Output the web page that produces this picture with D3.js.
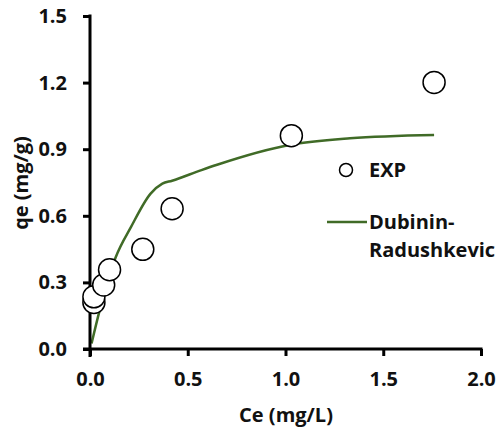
<!DOCTYPE html>
<html><head><meta charset="utf-8">
<script src="https://cdn.jsdelivr.net/npm/d3@7"></script>
<style>body{margin:0;background:#fff}svg{display:block}text{font-family:"Open Sans","Noto Sans",sans-serif;font-weight:700;fill:#111}</style>
</head><body>
<script>
const expX = [0.02, 0.02, 0.07, 0.10, 0.27, 0.42, 1.03, 1.76];
const expY = [0.21, 0.235, 0.288, 0.357, 0.449, 0.632, 0.961, 1.201];
const drX = [0.008, 0.05, 0.13, 0.21, 0.31, 0.37, 0.42, 0.57, 0.65, 1.02, 1.33, 1.76];
const drY = [0.025, 0.176, 0.41, 0.55, 0.70, 0.745, 0.758, 0.806, 0.83, 0.919, 0.949, 0.964];
const xTicks = [0, 0.5, 1.0, 1.5, 2.0];
const yTicks = [0, 0.3, 0.6, 0.9, 1.2, 1.5];
const seriesNames = ["EXP", "Dubinin-Radushkevic"];

const W = 499, H = 434;
const FS = 20;
const svg = d3.select("body").append("svg").attr("width", W).attr("height", H);
const x = d3.scaleLinear().domain([0, 2]).range([90, 481]);
const y = d3.scaleLinear().domain([0, 1.5]).range([349, 16]);
const green = "#406b27";

// model line
const line = d3.line().x(d => x(d[0])).y(d => y(d[1])).curve(d3.curveMonotoneX);
svg.append("path").datum(drX.map((v, i) => [v, drY[i]]))
  .attr("d", line).attr("fill", "none").attr("stroke", green).attr("stroke-width", 2.5);

// axes
const fmt = d3.format(".1f");
const gx = svg.append("g").attr("transform", `translate(0,${y(0)})`)
  .call(d3.axisBottom(x).tickValues(xTicks).tickFormat(fmt).tickSize(7).tickPadding(16).tickSizeOuter(0));
const gy = svg.append("g").attr("transform", `translate(${x(0)},0)`)
  .call(d3.axisLeft(y).tickValues(yTicks).tickFormat(fmt).tickSize(7).tickPadding(16).tickSizeOuter(0));
[gx, gy].forEach(g => {
  g.select(".domain").attr("stroke", "#000").attr("stroke-width", 3);
  g.selectAll(".tick line").attr("stroke", "#000").attr("stroke-width", 3);
  g.selectAll(".tick text").attr("font-size", FS).attr("fill", "#111")
    .attr("font-family", '"Open Sans","Noto Sans",sans-serif').attr("font-weight", 700);
});
gx.select(".domain").attr("d", `M${x(0)-7},0H${x(2)+1.5}`);
gy.select(".domain").attr("d", `M0,${y(0)+8}V${y(1.5)-1.5}`);

// points
svg.append("g").selectAll("circle").data(expX.map((v, i) => [v, expY[i]])).join("circle")
  .attr("cx", d => x(d[0])).attr("cy", d => y(d[1])).attr("r", 11)
  .attr("fill", "#fff").attr("stroke", "#000").attr("stroke-width", 1.5);

// axis titles
svg.append("text").attr("x", 286).attr("y", 422).attr("text-anchor", "middle")
  .attr("font-size", FS).text("Ce (mg/L)");
svg.append("text").attr("transform", "translate(28,183) rotate(-90)").attr("text-anchor", "middle")
  .attr("font-size", FS).text("qe (mg/g)");

// legend
svg.append("circle").attr("cx", 346).attr("cy", 170).attr("r", 6.5)
  .attr("fill", "#fff").attr("stroke", "#000").attr("stroke-width", 1.5);
svg.append("text").attr("x", 369).attr("y", 177).attr("font-size", FS).text(seriesNames[0]);
svg.append("line").attr("x1", 327).attr("x2", 367).attr("y1", 222).attr("y2", 222)
  .attr("stroke", green).attr("stroke-width", 2.5);
svg.append("text").attr("x", 369).attr("y", 229).attr("font-size", FS).text("Dubinin-");
svg.append("text").attr("x", 369).attr("y", 257).attr("font-size", FS).text("Radushkevic");
</script>
</body></html>
